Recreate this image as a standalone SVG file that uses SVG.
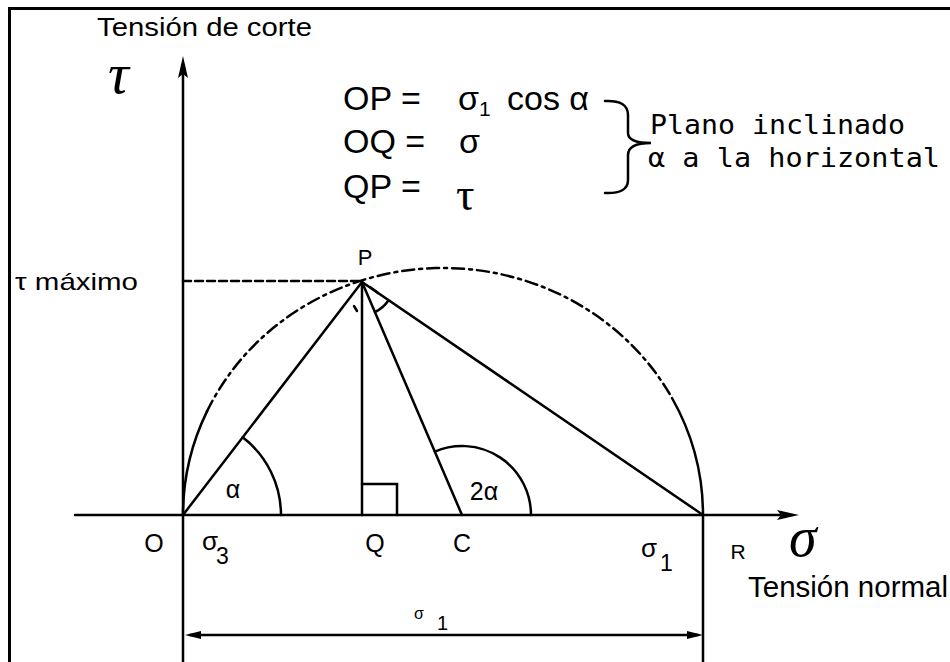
<svg xmlns="http://www.w3.org/2000/svg" width="950" height="662" viewBox="0 0 950 662">
<style>
.ln{stroke:#000;stroke-width:2.5;fill:none;stroke-linecap:round}
.dd{stroke-dasharray:12 5 3 5}
.dsh{stroke-dasharray:8 4}
.t{font-family:"Liberation Sans",Arial,sans-serif;fill:#000}
.s{font-family:"Liberation Serif","Times New Roman",serif;fill:#000}
.m{font-family:"DejaVu Sans Mono","Liberation Mono",monospace;fill:#000}
.ah{fill:#000;stroke:none}
</style>
<rect width="950" height="662" fill="#fff"/>
<g id="frame">
<path d="M9.5,662 V8.5 H950" stroke="#000" stroke-width="3" fill="none"/>
</g>
<g id="axes">
<line class="ln" x1="183" y1="662" x2="183" y2="70"/>
<polygon class="ah" points="183,56 178,78 183,74 188,78"/>
<line class="ln" x1="75" y1="515" x2="785" y2="515"/>
<polygon class="ah" points="799,515 777,510 781,515 777,520"/>
<line class="ln" x1="703" y1="515" x2="703" y2="662"/>
<text class="t" x="97" y="36" font-size="25" textLength="215" lengthAdjust="spacingAndGlyphs">Tensión de corte</text>
<text class="s" x="108" y="93" font-size="58" font-style="italic">τ</text>
<text class="s" x="789" y="556" font-size="56" font-style="italic">σ</text>
<text class="t" x="748" y="597" font-size="29" textLength="200" lengthAdjust="spacingAndGlyphs">Tensión normal</text>
</g>
<g id="circle">
<path class="ln" d="M183,515 A260,247 0 0 1 207,411.4"/>
<path class="ln dd" d="M207,411.4 A260,247 0 0 1 672,398"/>
<path class="ln" d="M672,398 A260,247 0 0 1 703,515"/>
</g>
<g id="connectors">
<line class="ln dsh" x1="183" y1="281" x2="360" y2="281"/>
<line class="ln" x1="183" y1="515" x2="362" y2="282"/>
<line class="ln" x1="362" y1="282" x2="362" y2="515"/>
<line class="ln" x1="362" y1="282" x2="462" y2="515"/>
<line class="ln" x1="362" y1="282" x2="703" y2="515"/>
<path class="ln" d="M281,515 A98,98 0 0 0 242.7,437.3"/>
<path class="ln" d="M531,515 A69,69 0 0 0 434.8,451.6"/>
<path class="ln" d="M362,484 H397 V515"/>
<path class="ln" d="M354,306 L357,311" stroke-width="2"/>
<path class="ln" d="M370,287 L378,293" stroke-width="2"/>
<path class="ln" d="M388,301 A33,33 0 0 1 375,312" stroke-width="2"/>
<line class="ln" x1="190" y1="635" x2="698" y2="635" stroke-width="2"/>
<polygon class="ah" points="185,635 201,631 201,639"/>
<polygon class="ah" points="703,635 687,631 687,639"/>
</g>
<g id="labels">
<text class="t" x="15" y="290" font-size="24" textLength="123" lengthAdjust="spacingAndGlyphs">τ máximo</text>
<text class="t" x="365" y="265" font-size="22" text-anchor="middle">P</text>
<text class="t" x="154" y="552" font-size="25" text-anchor="middle">O</text>
<text class="t" x="202" y="550" font-size="26">σ</text>
<text class="t" x="216" y="564" font-size="23">3</text>
<text class="t" x="375" y="552" font-size="25" text-anchor="middle">Q</text>
<text class="t" x="462" y="552" font-size="25" text-anchor="middle">C</text>
<text class="t" x="641" y="557" font-size="26">σ</text>
<text class="t" x="660" y="571" font-size="23">1</text>
<text class="t" x="738" y="559" font-size="21" text-anchor="middle">R</text>
<text class="t" x="233" y="498" font-size="25" text-anchor="middle">α</text>
<text class="t" x="484" y="500" font-size="25" text-anchor="middle">2α</text>
<text class="t" x="414" y="619" font-size="16">σ</text>
<text class="t" x="437" y="630" font-size="20">1</text>
</g>
<g id="formulas">
<text class="t" x="343" y="110" font-size="34">OP =</text>
<text class="t" x="458" y="110" font-size="34">σ<tspan font-size="21" dy="6">1</tspan></text>
<text class="t" x="507" y="110" font-size="34">cos α</text>
<text class="t" x="343" y="153" font-size="34">OQ =</text>
<text class="t" x="459" y="153" font-size="34">σ</text>
<text class="t" x="343" y="198" font-size="34">QP =</text>
<text class="s" x="456" y="210" font-size="46">τ</text>
<path class="ln" d="M605,101 Q628,100 628,115 L628,133 Q628,143 651,143 Q628,143 628,155 L628,180 Q628,194 605,193" stroke-width="2.5"/>
<text class="m" x="650" y="134" font-size="27" textLength="255" lengthAdjust="spacingAndGlyphs">Plano inclinado</text>
<text class="m" x="648" y="167" font-size="27" textLength="292" lengthAdjust="spacingAndGlyphs">α a la horizontal</text>
</g>
</svg>
